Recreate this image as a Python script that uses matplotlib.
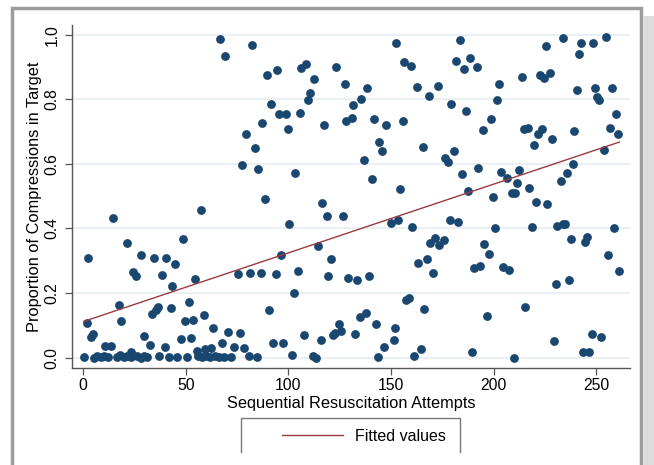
import numpy as np
import matplotlib.pyplot as plt
from matplotlib.patches import Rectangle
from matplotlib.lines import Line2D

plt.rcParams['font.family'] = ['Liberation Sans', 'DejaVu Sans']

############################# DATOS #####################################################

# upper left block (attempts 60-130, high proportions)
x_upper_left = [66.5, 82.4, 69.2, 89.6, 94.4, 106.3, 108.7, 112.6, 123.4, 127.4, 110.4, 109.5, 91.3,
                95.4, 98.7, 105.5, 87.1, 99.6, 117.3, 128.2, 79.5, 83.5, 77.5, 85.3, 103.4]
y_upper_left = [0.987, 0.967, 0.934, 0.875, 0.891, 0.896, 0.908, 0.864, 0.900, 0.847, 0.821, 0.798, 0.785,
                0.754, 0.754, 0.757, 0.727, 0.707, 0.719, 0.734, 0.693, 0.648, 0.596, 0.584, 0.571]

# upper right block
x_upper_right = [130.8, 131.6, 135.4, 138.5, 141.6, 147.4, 152.6, 156.5, 159.8, 162.7, 168.7, 172.9, 155.7,
                 144.3, 145.6, 136.7, 140.7, 154.6, 165.6, 179.4, 183.7, 181.7, 185.4, 188.5, 191.9, 186.6,
                 176.5, 177.8, 180.6, 184.6, 192.4, 187.7, 194.7, 198.5, 201.5, 202.5, 203.6, 206.3, 212.4,
                 211.6, 208.8, 210.5, 217.5, 199.6, 213.9, 222.7, 224.7, 227.7, 225.6, 233.6, 242.5, 248.5,
                 255.0, 241.8, 240.5, 249.6, 257.8, 250.6, 251.4, 259.7, 256.6, 260.8, 239.4, 228.7, 223.5,
                 221.7, 214.7, 216.8, 219.7, 253.9, 238.9, 235.9, 233.0]
y_upper_right = [0.743, 0.782, 0.801, 0.836, 0.740, 0.721, 0.975, 0.916, 0.903, 0.837, 0.811, 0.840, 0.732,
                 0.668, 0.641, 0.611, 0.554, 0.523, 0.653, 0.786, 0.985, 0.918, 0.895, 0.929, 0.900, 0.764,
                 0.619, 0.606, 0.639, 0.569, 0.586, 0.517, 0.705, 0.740, 0.797, 0.846, 0.575, 0.556, 0.580,
                 0.540, 0.511, 0.511, 0.525, 0.497, 0.868, 0.875, 0.865, 0.880, 0.965, 0.989, 0.974, 0.975,
                 0.993, 0.939, 0.829, 0.836, 0.836, 0.808, 0.797, 0.755, 0.711, 0.691, 0.703, 0.677, 0.709,
                 0.691, 0.708, 0.712, 0.658, 0.644, 0.600, 0.573, 0.548]

# lower left block
x_lower_left = [88.7, 116.5, 118.6, 126.4, 57.5, 14.6, 100.3, 48.4, 21.5, 114.3, 2.4, 28.3, 34.5, 40.3,
                44.5, 96.5, 120.6, 24.4, 25.5, 38.5, 43.4, 54.6, 75.6, 81.3, 86.6, 93.8, 104.5, 119.3,
                129.2, 102.7, 17.6, 90.7, 51.5, 36.6, 35.4, 33.3, 42.6, 1.6, 18.4, 49.6, 53.5, 58.7,
                63.4, 3.6, 4.6, 29.4, 32.3, 39.8, 47.5, 52.7, 67.6, 70.7, 76.5, 73.3, 78.3, 55.4, 59.3,
                62.2, 10.4, 13.7, 23.4, 92.5, 97.5, 107.6, 115.7, 121.9, 122.8, 125.5, 124.8, 101.6,
                111.8, 113.4]
y_lower_left = [0.491, 0.480, 0.439, 0.440, 0.457, 0.431, 0.413, 0.367, 0.355, 0.346, 0.310, 0.318, 0.310,
                0.310, 0.290, 0.318, 0.306, 0.266, 0.253, 0.257, 0.223, 0.244, 0.258, 0.262, 0.262, 0.260,
                0.268, 0.253, 0.248, 0.201, 0.163, 0.149, 0.173, 0.158, 0.148, 0.135, 0.153, 0.108, 0.115,
                0.115, 0.118, 0.132, 0.093, 0.065, 0.072, 0.067, 0.039, 0.032, 0.057, 0.061, 0.045, 0.079,
                0.076, 0.034, 0.029, 0.022, 0.027, 0.029, 0.036, 0.036, 0.019, 0.045, 0.045, 0.071, 0.054,
                0.069, 0.076, 0.083, 0.105, 0.007, 0.004, 0.000]

# attempts with (almost) zero compressions in target
x_zero = [0.3, 5.2, 6.8, 8.5, 10.1, 12.2, 16.3, 17.9, 19.8, 21.5, 23.1, 26.3, 28.0, 29.6, 31.2, 37.1,
          41.6, 45.8, 50.4, 55.9, 57.9, 59.8, 61.8, 64.4, 66.3, 68.6, 71.8, 80.6, 84.5]
y_zero = [0.002, 0.000, 0.004, 0.003, 0.006, 0.002, 0.003, 0.008, 0.001, 0.005, 0.002, 0.004, 0.000,
          0.006, 0.002, 0.004, 0.003, 0.002, 0.001, 0.004, 0.003, 0.006, 0.002, 0.004, 0.001, 0.003,
          0.002, 0.004, 0.003]

# lower right block
x_lower_right = [149.8, 153.6, 160.4, 178.8, 182.5, 200.9, 218.6, 220.6, 226.2, 231.1, 234.0, 234.8, 258.6,
                 237.6, 245.6, 244.8, 255.7, 261.3, 230.5, 236.7, 215.5, 196.6, 229.5, 247.9, 252.6, 243.5,
                 246.7, 209.8, 189.3, 195.5, 197.8, 190.5, 193.6, 204.5, 207.4, 169.0, 171.4, 173.5, 175.8,
                 163.3, 167.5, 170.5, 157.3, 158.6, 166.3, 133.6, 139.4, 134.9, 137.6, 132.5, 142.5, 151.8,
                 151.5, 146.8, 143.5, 161.4, 164.6]
y_lower_right = [0.417, 0.427, 0.405, 0.425, 0.419, 0.400, 0.406, 0.481, 0.476, 0.409, 0.413, 0.415, 0.400,
                 0.367, 0.375, 0.359, 0.318, 0.268, 0.229, 0.240, 0.158, 0.130, 0.053, 0.074, 0.063, 0.017,
                 0.017, 0.000, 0.017, 0.351, 0.320, 0.277, 0.285, 0.281, 0.272, 0.354, 0.369, 0.349, 0.363,
                 0.292, 0.305, 0.263, 0.179, 0.185, 0.151, 0.239, 0.253, 0.125, 0.137, 0.073, 0.105, 0.091,
                 0.054, 0.032, 0.001, 0.006, 0.028]

x_ticks = [0, 50, 100, 150, 200, 250]
y_ticks = [0.0, 0.2, 0.4, 0.6, 0.8, 1.0]

attempts = np.array(x_upper_left + x_upper_right + x_lower_left + x_zero + x_lower_right)
proportion = np.array(y_upper_left + y_upper_right + y_lower_left + y_zero + y_lower_right)

# recta ajustada (lfit)
slope, intercept = np.polyfit(attempts, proportion, 1)
x_fit = np.array([attempts.min(), attempts.max()])
y_fit = intercept + slope * x_fit

############################# GRAFICO ################################

fig = plt.figure(figsize=(6.54, 4.65), dpi=100)
W, H = 654, 465

# marco gris alrededor del grafico
fig.patches.append(Rectangle((644 / W, 0), 10 / W, (H - 16) / H, transform=fig.transFigure,
                             facecolor='#dcdcdc', edgecolor='none'))
fig.patches.append(Rectangle((12 / W, -0.05), (641 - 12) / W, (H - 8) / H + 0.05, transform=fig.transFigure,
                             fill=False, edgecolor='#9c9c9c', lw=2.5))

ax = fig.add_axes([72 / W, 1 - 368 / H, (630 - 72) / W, (368 - 25) / H])
ax.scatter(attempts, proportion, s=40, color='#1a476f', linewidths=0, zorder=3)
ax.plot(x_fit, y_fit, color='#9b3a40', lw=1.0, zorder=4)

ax.set_xlim(-5.5, 266.5)
ax.set_ylim(-0.032, 1.030)
ax.set_xticks(x_ticks)
ax.set_yticks(y_ticks)
ax.set_yticklabels([f'{v:.1f}' for v in y_ticks])
ax.grid(axis='y', color='#e4eef2', lw=1.2, zorder=0)
ax.set_axisbelow(True)

for s in ['top', 'right']:
    ax.spines[s].set_visible(False)
for s in ['left', 'bottom']:
    ax.spines[s].set_color('#555555')
    ax.spines[s].set_linewidth(1.0)

ax.tick_params(axis='both', direction='out', length=5, width=0.9, color='#555555', labelsize=11.3)
ax.tick_params(axis='x', pad=2)
ax.tick_params(axis='y', pad=4)
for lab in ax.get_yticklabels():
    lab.set_rotation(90)
    lab.set_va('center')

ax.set_xlabel('Sequential Resuscitation Attempts', fontsize=11.8, va='center')
ax.xaxis.set_label_coords(0.5, -(403 - 368) / 343)
ax.set_ylabel('Proportion of Compressions in Target', fontsize=11.8, va='center')
ax.yaxis.set_label_coords((35 - 72) / 558, 0.5)

# leyenda (caja recortada abajo como en el original)
fig.legend(handles=[Line2D([], [], color='#9b3a40', lw=1.0)], labels=['Fitted values'],
           loc='center', bbox_to_anchor=(364 / W, 1 - 436 / H), frameon=False,
           fontsize=11.5, handlelength=3.8, handletextpad=0.8)
box_x = [241 / W, 241 / W, 460 / W, 460 / W]
box_y = [1 - 452 / H, 1 - 418 / H, 1 - 418 / H, 1 - 452 / H]
fig.add_artist(Line2D(box_x, box_y, transform=fig.transFigure, color='#777777', lw=1.0))

plt.savefig('out.png', dpi=100)
